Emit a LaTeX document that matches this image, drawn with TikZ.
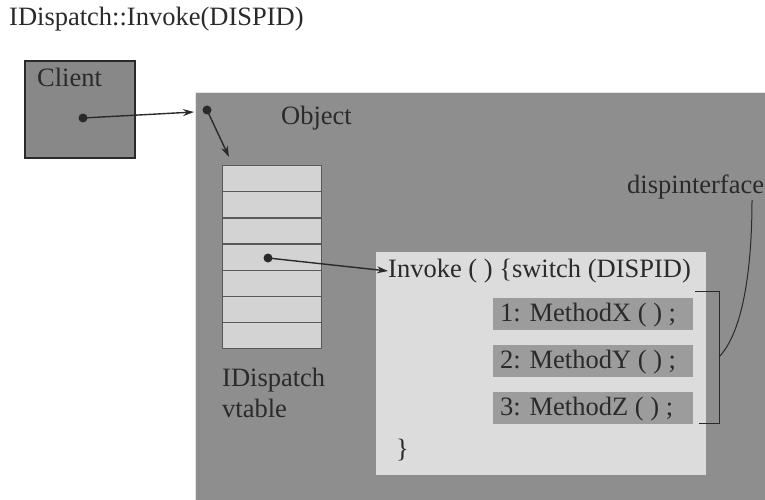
\documentclass[tikz,border=0pt]{standalone}
\usepackage{fontspec}
\setmainfont{Liberation Serif}
\usetikzlibrary{arrows.meta}
\definecolor{objgray}{HTML}{8E8E8E}
\definecolor{clientgray}{HTML}{888888}
\definecolor{slotgray}{HTML}{D3D3D3}
\definecolor{codegray}{HTML}{DCDCDC}
\definecolor{casegray}{HTML}{9C9C9C}
\definecolor{ink}{HTML}{2A2A2A}
\begin{document}
\begin{tikzpicture}[x=1pt,y=-1pt,
  txt/.style={font=\fontsize{26.5}{30}\selectfont, text=ink, inner sep=0pt, anchor=west},
  ptr/.style={draw=ink, line width=1.4pt, -{Stealth[length=11pt,width=7pt]}},
  dot/.style={circle, fill=ink, inner sep=0pt, minimum size=9pt},
  slot/.style={draw=black!65, line width=1.2pt, fill=slotgray, minimum width=99pt, minimum height=26pt, inner sep=0pt, anchor=north west},
  casebox/.style={fill=casegray, minimum width=200pt, minimum height=32pt, inner sep=0pt, anchor=north west}]
\useasboundingbox (0,0) rectangle (765,500);
\fill[white] (0,0) rectangle (765,500);

% title
\node[txt] (title) at (9,19) {IDispatch::Invoke(DISPID)};

% client
\node[draw=ink, line width=2pt, fill=clientgray, minimum width=110pt, minimum height=97pt, anchor=north west, inner sep=0pt] (client) at (24,60) {};
\node[txt] (clientlbl) at (37,77) {Client};
\node[dot] (cdot) at (83,118) {};

% object
\fill[objgray] (195,92) rectangle (765,500);
\draw[white!80!gray, line width=1pt] (195.5,500) -- (195.5,92.5) -- (765,92.5);
\node[txt] (objlbl) at (281,118) {Object};
\node[dot] (odot) at (207,110) {};
\coordinate (objentry) at (194,112);

% vtable
\foreach \i in {0,...,6}{
  \node[slot] (s\i) at (222,165+26.2*\i) {};
}
\node[txt] (vt1) at (222,380) {IDispatch};
\node[txt] (vt2) at (222,408) {vtable};
\node[dot] (vdot) at (268,258) {};

% invoke body
\node[fill=codegray, minimum width=330pt, minimum height=223pt, anchor=north west, inner sep=0pt] (code) at (376,252) {};
\node[txt] (inv) at (388,271) {Invoke ( ) \{switch (DISPID)};
\node[casebox] (m1) at (493,298) {};
\node[casebox] (m2) at (493,345) {};
\node[casebox] (m3) at (493,392) {};
\node[txt] (m1t) at (500,315) {1: MethodX ( ) ;};
\node[txt] (m2t) at (500,362) {2: MethodY ( ) ;};
\node[txt] (m3t) at (500,409) {3: MethodZ ( ) ;};
\node[txt] (close) at (396,450) {\}};

% dispinterface bracket and label
\draw[ink, line width=1pt] (695,291) -- (719,291) -- (719,423) -- (699,423);
\coordinate (brk) at (719,357);
\node[txt] (disp) at (627,187) {dispinterface};
\draw[ink, line width=1pt] (brk) .. controls (745,330) and (752,260) .. (752,200);

% pointers
\draw[ptr] (cdot.center) -- (objentry);
\draw[ptr] (odot.center) -- (229,157);
\draw[ptr] (vdot.center) -- (inv.west);
\end{tikzpicture}
\end{document}
